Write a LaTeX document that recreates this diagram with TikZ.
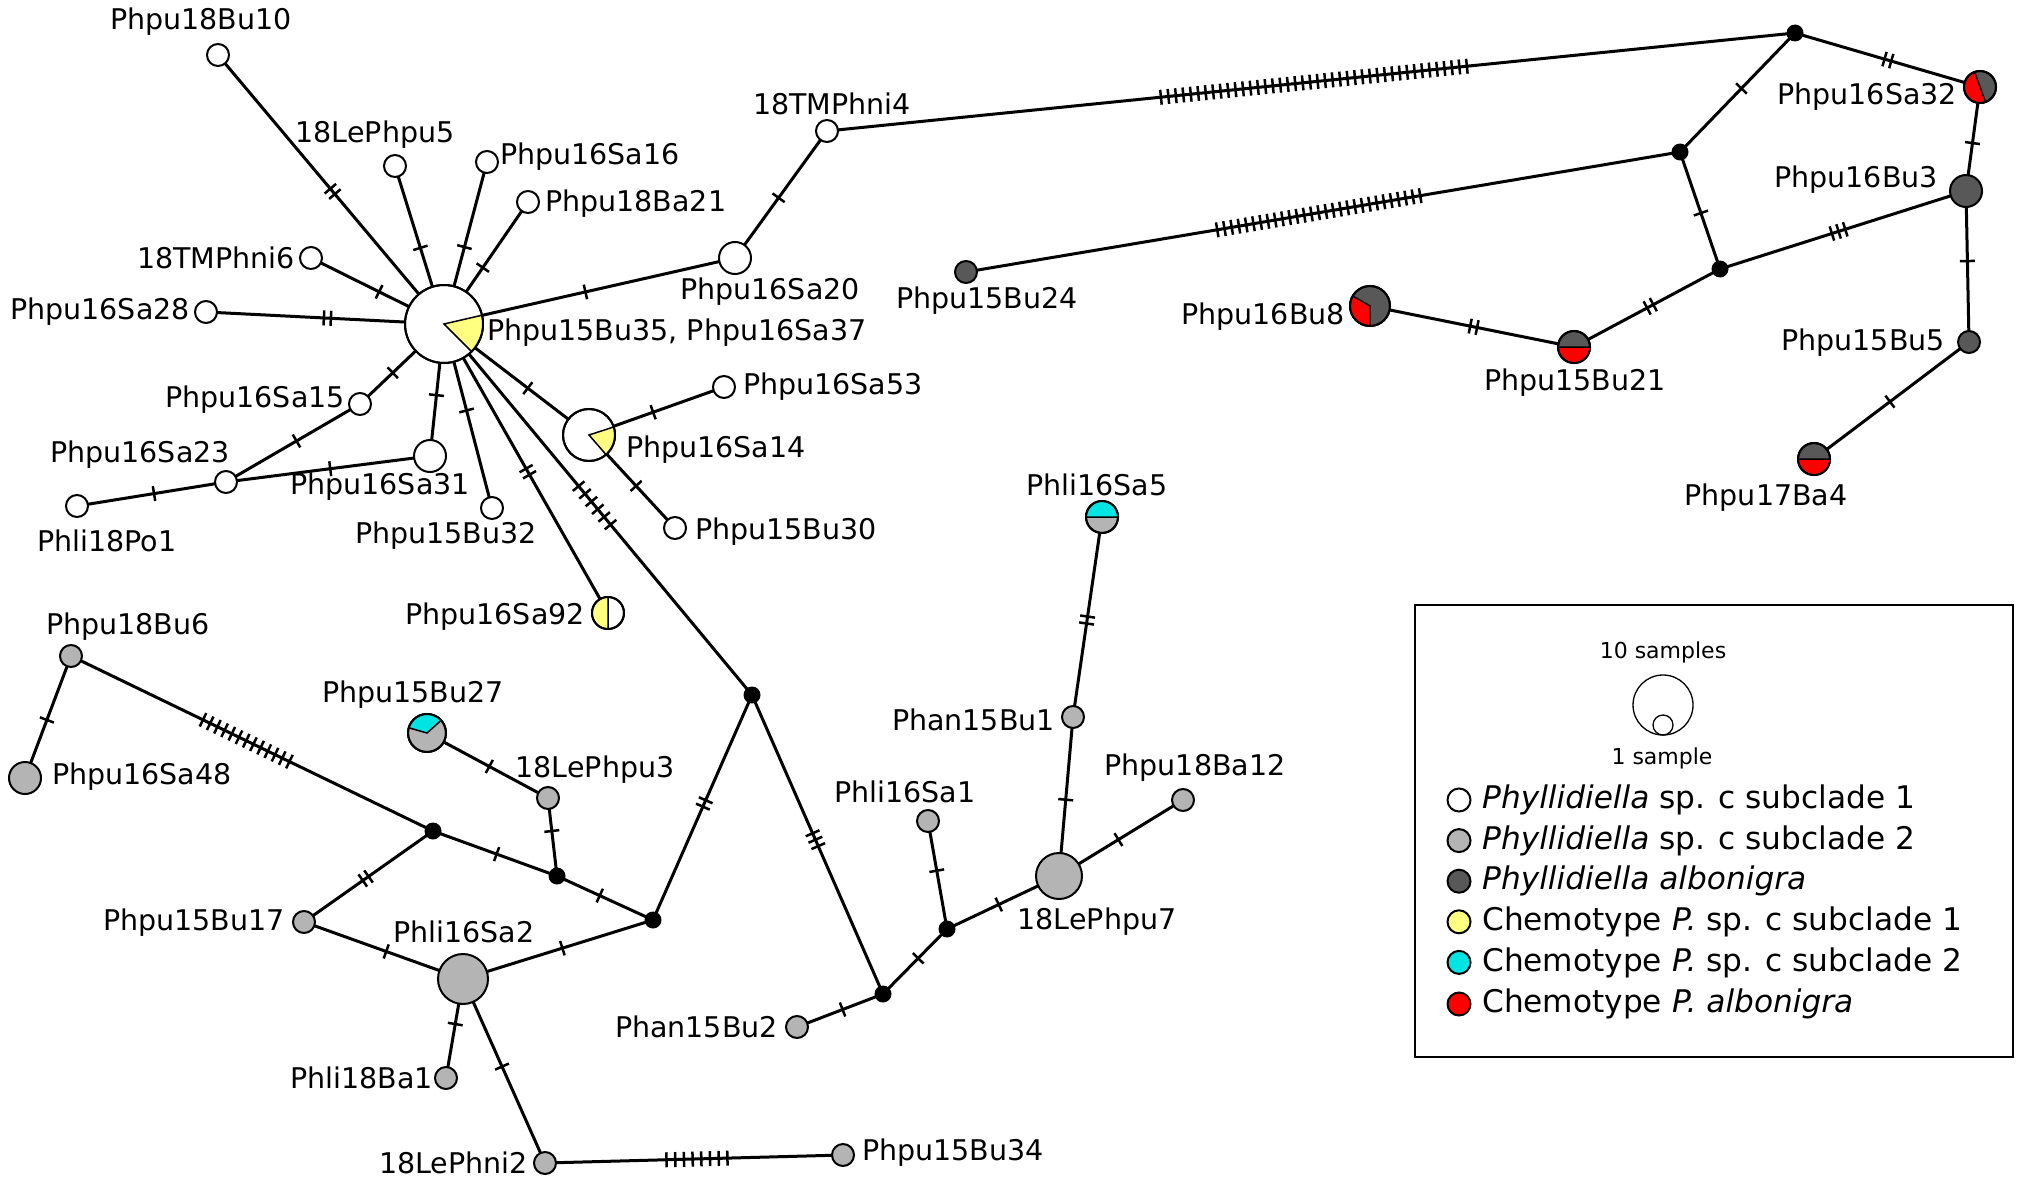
\documentclass[tikz,border=0pt]{standalone}
\usepackage{fontspec}
\setmainfont{DejaVu Sans}[ItalicFont={DejaVu Sans Oblique}]
\usetikzlibrary{decorations.markings}
\pgfdeclarelayer{bg}
\pgfsetlayers{bg,main}
\definecolor{lgray}{RGB}{180,180,180}
\definecolor{dgray}{RGB}{88,88,88}
\definecolor{yel}{RGB}{255,255,128}
\definecolor{cyn}{RGB}{0,228,228}
\definecolor{rd}{RGB}{255,0,0}
\newcommand\hapwedge[5]{%
  \filldraw[fill=#5, draw=black, line width=1.5pt] (#1.center) -- ++(#3:#2pt) arc[start angle=#3, end angle=#4, radius=#2pt] -- cycle;
  \draw[line width=2pt] (#1.center) circle[radius=#2pt];}
\tikzset{
  hap/.style={circle, draw=black, line width=2pt, inner sep=0pt, minimum size=#1},
  wh/.style={hap=#1, fill=white},
  lg/.style={hap=#1, fill=lgray},
  dg/.style={hap=#1, fill=dgray},
  med/.style={circle, fill=black, inner sep=0pt, minimum size=17pt},
  lbl/.style={font=\fontsize{28.5}{34}\selectfont, inner sep=0pt},
  leg/.style={font=\fontsize{31.2}{37}\selectfont, inner sep=0pt, anchor=west},
  smallleg/.style={font=\fontsize{22}{26}\selectfont, inner sep=0pt},
  edge/.style={line width=3pt},
  tk/.style n args={3}{postaction={decorate, decoration={markings,
      mark=at position #1 with {\foreach \k in {1,...,#2}{\draw[line width=2.5pt] ({(\k-(#2+1)/2)*#3*1pt},-7.5pt) -- ++(0pt,15pt);}}}}}
}
\begin{document}
\begin{tikzpicture}[x=1pt,y=-1pt]
\useasboundingbox (0,0) rectangle (2017,1185);

% ---------- haplotype nodes ----------
\node[wh=78pt] (C) at (444,324) {};
\node[wh=22pt] (Bu10) at (218,55) {};
\node[wh=22pt] (Le5) at (395,166) {};
\node[wh=22pt] (Sa16) at (487,162) {};
\node[wh=22pt] (Ba21) at (528,202) {};
\node[wh=22pt] (TM6) at (311,258) {};
\node[wh=22pt] (Sa28) at (206,312) {};
\node[wh=32pt] (Sa20) at (735,258) {};
\node[wh=22pt] (TM4) at (827,131) {};
\node[wh=22pt] (Sa15) at (360,404) {};
\node[wh=22pt] (Sa23) at (226,482) {};
\node[wh=22pt] (Po1) at (77,506) {};
\node[wh=32pt] (Sa31) at (430,456) {};
\node[wh=22pt] (Bu32) at (492,508) {};
\node[wh=52pt] (Sa14) at (589,435) {};
\node[wh=22pt] (Sa53) at (724,387) {};
\node[wh=22pt] (Bu30) at (675,528) {};
\node[wh=32pt] (Sa92) at (608,613) {};

\node[med] (K1) at (752,695) {};
\node[med] (K2) at (433,831) {};
\node[med] (K3) at (557,876) {};
\node[med] (K4) at (653,920) {};
\node[med] (K5) at (883,994) {};
\node[med] (K6) at (947,929) {};
\node[med] (K7) at (1795,33) {};
\node[med] (K8) at (1680,152) {};
\node[med] (K9) at (1720,269) {};

\node[lg=22pt] (Bu6) at (71,656) {};
\node[lg=32pt] (Sa48) at (25,778) {};
\node[lg=38pt] (Bu27) at (427,733) {};
\node[lg=22pt] (Le3) at (548,798) {};
\node[lg=22pt] (Bu17) at (304,922) {};
\node[lg=50pt] (Sa2) at (463,979) {};
\node[lg=22pt] (Ba1) at (446,1078) {};
\node[lg=22pt] (Ni2) at (545,1163) {};
\node[lg=22pt] (Bu34) at (843,1155) {};
\node[lg=22pt] (Bu2) at (797,1027) {};
\node[lg=22pt] (Sa1) at (928,821) {};
\node[lg=46pt] (Le7) at (1059,876) {};
\node[lg=22pt] (Ba12) at (1183,800) {};
\node[lg=22pt] (Bu1) at (1073,717) {};
\node[lg=32pt] (Sa5) at (1102,517) {};

\node[dg=22pt] (Bu24) at (966,272) {};
\node[dg=40pt] (Bu8) at (1370,306) {};
\node[dg=32pt] (Bu21) at (1574,347) {};
\node[dg=32pt] (Sa32) at (1980,87) {};
\node[dg=32pt] (Bu3) at (1966,191) {};
\node[dg=22pt] (Bu5) at (1969,342) {};
\node[dg=32pt] (Ba4) at (1814,459) {};

% ---------- pie wedges ----------
\hapwedge{C}{39}{-45}{13}{yel}
\hapwedge{Sa14}{26}{-49}{18}{yel}
\hapwedge{Sa92}{16}{90}{270}{yel}
\hapwedge{Bu27}{19}{42}{164}{cyn}
\hapwedge{Sa5}{16}{0}{180}{cyn}
\hapwedge{Bu8}{20}{150}{270}{rd}
\hapwedge{Sa32}{16}{110}{290}{rd}
\hapwedge{Bu21}{16}{180}{360}{rd}
\hapwedge{Ba4}{16}{180}{360}{rd}

% ---------- connectors ----------
\begin{pgfonlayer}{bg}
\draw[edge,tk={0.493}{2}{7}] (C.center) -- (Bu10.center);
\draw[edge,tk={0.482}{1}{7}] (C.center) -- (Le5.center);
\draw[edge,tk={0.475}{1}{7}] (C.center) -- (Sa16.center);
\draw[edge,tk={0.462}{1}{7}] (C.center) -- (Ba21.center);
\draw[edge,tk={0.488}{1}{7}] (C.center) -- (TM6.center);
\draw[edge,tk={0.49}{2}{7}] (C.center) -- (Sa28.center);
\draw[edge,tk={0.486}{1}{7}] (C.center) -- (Sa20.center);
\draw[edge,tk={0.474}{1}{7}] (Sa20.center) -- (TM4.center);
\draw[edge,tk={0.503}{42}{7.5}] (TM4.center) -- (K7.center);
\draw[edge,tk={0.494}{29}{7.35}] (Bu24.center) -- (K8.center);
\draw[edge,tk={0.466}{1}{7}] (K7.center) -- (K8.center);
\draw[edge,tk={0.502}{2}{7}] (K7.center) -- (Sa32.center);
\draw[edge,tk={0.522}{1}{7}] (K8.center) -- (K9.center);
\draw[edge,tk={0.482}{3}{7}] (K9.center) -- (Bu3.center);
\draw[edge,tk={0.478}{2}{7}] (K9.center) -- (Bu21.center);
\draw[edge,tk={0.508}{2}{7}] (Bu8.center) -- (Bu21.center);
\draw[edge,tk={0.539}{1}{7}] (Sa32.center) -- (Bu3.center);
\draw[edge,tk={0.464}{1}{7}] (Bu3.center) -- (Bu5.center);
\draw[edge,tk={0.51}{1}{7}] (Bu5.center) -- (Ba4.center);
\draw[edge,tk={0.61}{1}{7}] (C.center) -- (Sa15.center);
\draw[edge,tk={0.474}{1}{7}] (Sa15.center) -- (Sa23.center);
\draw[edge,tk={0.483}{1}{7}] (Sa23.center) -- (Po1.center);
\draw[edge,tk={0.511}{1}{7}] (Sa23.center) -- (Sa31.center);
\draw[edge,tk={0.539}{1}{7}] (C.center) -- (Sa31.center);
\draw[edge,tk={0.47}{1}{7}] (C.center) -- (Bu32.center);
\draw[edge,tk={0.511}{2}{7}] (C.center) -- (Sa92.center);
\draw[edge,tk={0.489}{6}{10}] (C.center) -- (K1.center);
\draw[edge,tk={0.578}{1}{7}] (C.center) -- (Sa14.center);
\draw[edge,tk={0.475}{1}{7}] (Sa14.center) -- (Sa53.center);
\draw[edge,tk={0.548}{1}{7}] (Sa14.center) -- (Bu30.center);
\draw[edge,tk={0.482}{2}{7}] (K1.center) -- (K4.center);
\draw[edge,tk={0.484}{3}{7}] (K1.center) -- (K5.center);
\draw[edge,tk={0.555}{1}{7}] (K4.center) -- (K3.center);
\draw[edge,tk={0.477}{1}{7}] (K4.center) -- (Sa2.center);
\draw[edge,tk={0.577}{1}{7}] (K3.center) -- (Le3.center);
\draw[edge,tk={0.487}{1}{7}] (K3.center) -- (K2.center);
\draw[edge,tk={0.515}{1}{7}] (Bu27.center) -- (Le3.center);
\draw[edge,tk={0.516}{13}{8}] (K2.center) -- (Bu6.center);
\draw[edge,tk={0.522}{2}{7}] (K2.center) -- (Bu17.center);
\draw[edge,tk={0.524}{1}{7}] (Bu6.center) -- (Sa48.center);
\draw[edge,tk={0.517}{1}{7}] (Bu17.center) -- (Sa2.center);
\draw[edge,tk={0.455}{1}{7}] (Sa2.center) -- (Ba1.center);
\draw[edge,tk={0.476}{1}{7}] (Sa2.center) -- (Ni2.center);
\draw[edge,tk={0.51}{8}{8.7}] (Ni2.center) -- (Bu34.center);
\draw[edge,tk={0.47}{1}{7}] (K5.center) -- (Bu2.center);
\draw[edge,tk={0.55}{1}{7}] (K5.center) -- (K6.center);
\draw[edge,tk={0.54}{1}{7}] (K6.center) -- (Sa1.center);
\draw[edge,tk={0.462}{1}{7}] (K6.center) -- (Le7.center);
\draw[edge,tk={0.479}{1}{7}] (Le7.center) -- (Ba12.center);
\draw[edge,tk={0.48}{1}{7}] (Le7.center) -- (Bu1.center);
\draw[edge,tk={0.485}{2}{7}] (Bu1.center) -- (Sa5.center);
\end{pgfonlayer}

% ---------- labels ----------
\node[lbl] (lBu10) at (201,22) {Phpu18Bu10};
\node[lbl] (lLe5) at (375,135) {18LePhpu5};
\node[lbl,anchor=west] (lSa16) at (500,157) {Phpu16Sa16};
\node[lbl,anchor=west] (lBa21) at (545,204) {Phpu18Ba21};
\node[lbl,anchor=east] (lTM6) at (295,258) {18TMPhni6};
\node[lbl,anchor=east] (lSa28) at (190,312) {Phpu16Sa28};
\node[lbl,anchor=west] (lC) at (487,333) {Phpu15Bu35, Phpu16Sa37};
\node[lbl] (lTM4) at (832,104) {18TMPhni4};
\node[lbl] (lSa20) at (770,292) {Phpu16Sa20};
\node[lbl] (lBu24) at (987,301) {Phpu15Bu24};
\node[lbl,anchor=east] (lBu8) at (1345,317) {Phpu16Bu8};
\node[lbl,anchor=east] (lSa32) at (1957,97) {Phpu16Sa32};
\node[lbl,anchor=east] (lBu3) at (1938,180) {Phpu16Bu3};
\node[lbl,anchor=east] (lBu5) at (1945,343) {Phpu15Bu5};
\node[lbl] (lBu21) at (1575,383) {Phpu15Bu21};
\node[lbl] (lBa4) at (1766,498) {Phpu17Ba4};
\node[lbl,anchor=west] (lSa53) at (743,387) {Phpu16Sa53};
\node[lbl,anchor=west] (lSa14) at (626,450) {Phpu16Sa14};
\node[lbl,anchor=west] (lBu30) at (695,532) {Phpu15Bu30};
\node[lbl,anchor=east] (lSa92) at (585,617) {Phpu16Sa92};
\node[lbl,anchor=east] (lSa15) at (345,400) {Phpu16Sa15};
\node[lbl] (lSa23) at (140,455) {Phpu16Sa23};
\node[lbl] (lPo1) at (107,541) {Phli18Po1};
\node[lbl] (lSa31) at (380,487) {Phpu16Sa31};
\node[lbl] (lBu32) at (446,536) {Phpu15Bu32};
\node[lbl] (lBu6) at (128,627) {Phpu18Bu6};
\node[lbl,anchor=west] (lSa48) at (52,777) {Phpu16Sa48};
\node[lbl] (lBu27) at (413,695) {Phpu15Bu27};
\node[lbl] (lLe3) at (595,770) {18LePhpu3};
\node[lbl,anchor=east] (lBu17) at (285,923) {Phpu15Bu17};
\node[lbl] (lSa2) at (464,932) {Phli16Sa2};
\node[lbl,anchor=east] (lBa1) at (433,1078) {Phli18Ba1};
\node[lbl,anchor=east] (lNi2) at (528,1163) {18LePhni2};
\node[lbl,anchor=west] (lBu34) at (862,1153) {Phpu15Bu34};
\node[lbl,anchor=east] (lBu2) at (778,1027) {Phan15Bu2};
\node[lbl] (lSa1) at (905,792) {Phli16Sa1};
\node[lbl] (lLe7) at (1097,922) {18LePhpu7};
\node[lbl] (lBa12) at (1195,768) {Phpu18Ba12};
\node[lbl,anchor=east] (lBu1) at (1055,720) {Phan15Bu1};
\node[lbl] (lSa5) at (1097,485) {Phli16Sa5};

% ---------- legend ----------
\node[draw=black, line width=2.5pt, minimum width=598pt, minimum height=452pt, inner sep=0pt] (legbox) at (1714,831) {};
\node[smallleg] (l10) at (1663,652) {10 samples};
\node[circle, draw=black, line width=1.3pt, minimum size=60pt, inner sep=0pt] (big) at (1663,705) {};
\node[circle, draw=black, line width=1.3pt, minimum size=20pt, inner sep=0pt] (small) at (1663,725) {};
\node[smallleg] (l1) at (1662,758) {1 sample};
\node[wh=23pt] (g1) at (1459,800) {};
\node[lg=23pt] (g2) at (1459,840.6) {};
\node[dg=23pt] (g3) at (1459,881.2) {};
\node[hap=23pt, fill=yel] (g4) at (1459,921.8) {};
\node[hap=23pt, fill=cyn] (g5) at (1459,962.4) {};
\node[hap=23pt, fill=rd] (g6) at (1459,1004) {};
\node[leg] (t1) at (1482,800) {\textit{Phyllidiella} sp. c subclade 1};
\node[leg] (t2) at (1482,840.6) {\textit{Phyllidiella} sp. c subclade 2};
\node[leg] (t3) at (1482,881.2) {\textit{Phyllidiella albonigra}};
\node[leg] (t4) at (1482,921.8) {Chemotype \textit{P.} sp. c subclade 1};
\node[leg] (t5) at (1482,962.4) {Chemotype \textit{P.} sp. c subclade 2};
\node[leg] (t6) at (1482,1004) {Chemotype \textit{P. albonigra}};
\end{tikzpicture}
\end{document}
